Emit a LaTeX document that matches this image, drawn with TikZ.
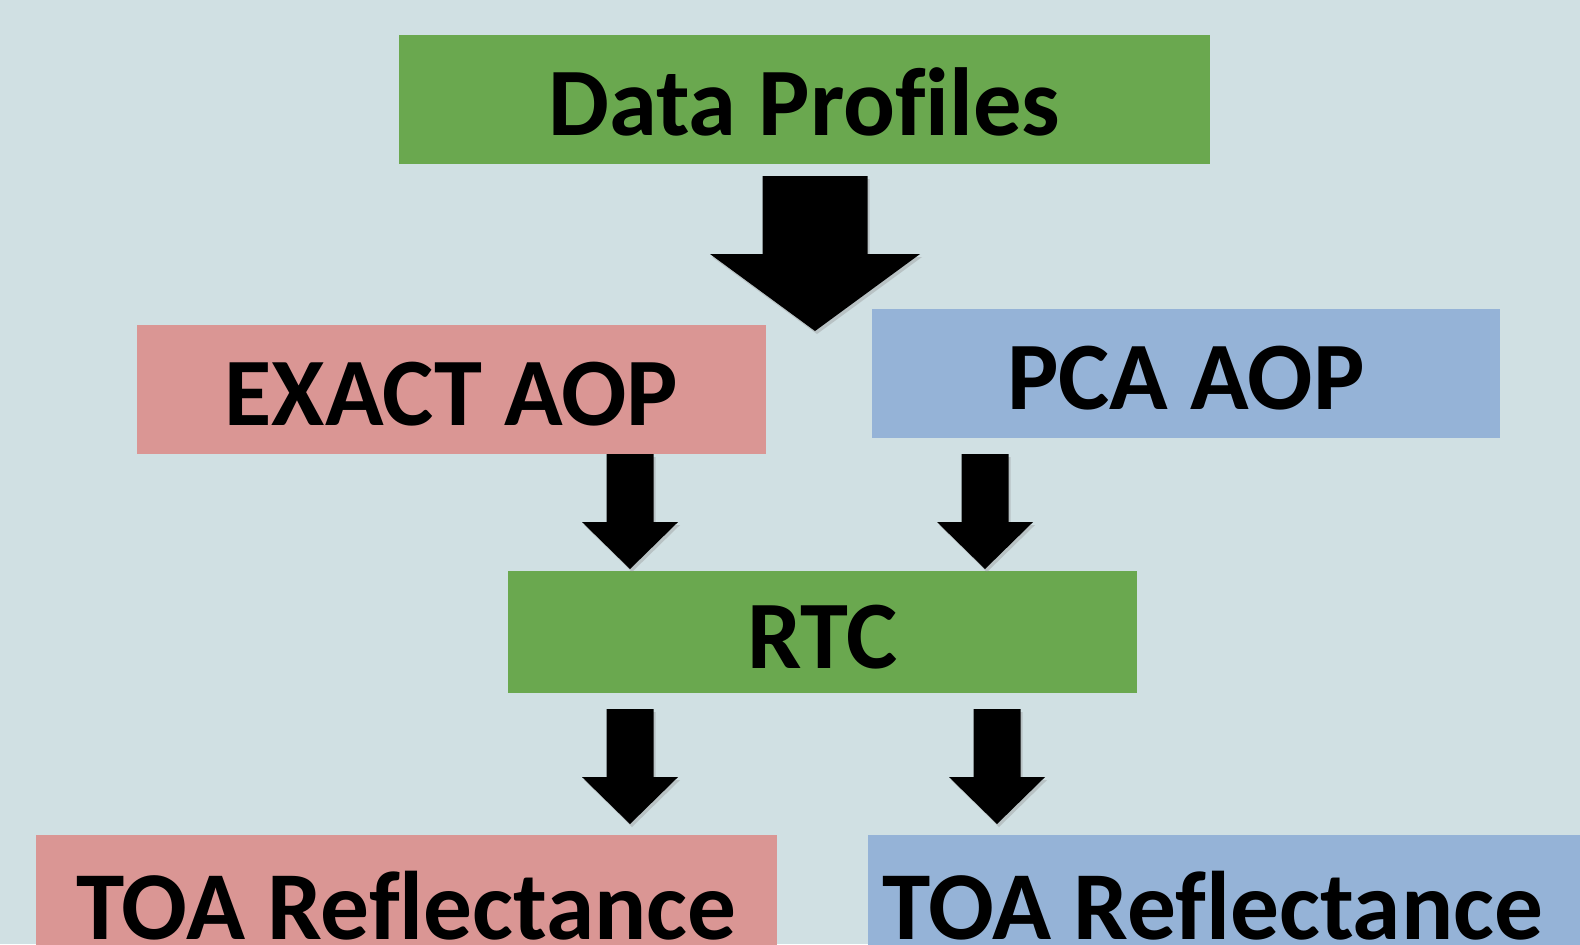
\documentclass[tikz,border=0pt]{standalone}
\usepackage{fontspec}
\setmainfont{Carlito}[Ligatures=NoCommon]
\usetikzlibrary{positioning,calc}
\definecolor{bgpale}{RGB}{208,224,227}
\definecolor{boxgreen}{RGB}{106,168,79}
\definecolor{boxpink}{RGB}{218,150,148}
\definecolor{boxblue}{RGB}{149,179,215}
\tikzset{
  box/.style={rectangle, inner sep=0pt, align=center, text=black,
    font=\fontsize{27.5}{30}\selectfont\bfseries, text height=0.72cm, text depth=0pt},
  gbox/.style={box, fill=boxgreen},
  pbox/.style={box, fill=boxpink},
  bbox/.style={box, fill=boxblue},
  obox/.style={font=\fontsize{27.7}{30}\selectfont\bfseries, text height=0.79cm},
  pics/downarrow/.style n args={4}{code={
    \fill[black!45, opacity=0.35] (-#1+2,3) -| (#1+2,#3+3) -- (#2+2,#3+3)
      -- (2,#4+3) -- (-#2+2,#3+3) -- (-#1+2,#3+3) -- cycle;
    \fill[black] (-#1,0) -| (#1,#3) -- (#2,#3) -- (0,#4) -- (-#2,#3)
      -- (-#1,#3) -- cycle;
  }},
}
\begin{document}
\begin{tikzpicture}[x=0.01cm, y=-0.01cm]
  \clip (0,0) rectangle (1580,944);
  \fill[bgpale] (0,0) rectangle (1580,944);
  % boxes
  \node[gbox, minimum width=8.11cm, minimum height=1.29cm] (dp) at (804.5,99.5) {Data Prof\kern0pt iles};
  \node[pbox, minimum width=6.29cm, minimum height=1.29cm] (exact) at (451.5,389.5) {EXACT AOP};
  \node[bbox, minimum width=6.28cm, minimum height=1.29cm] (pca) at (1186,373.5) {PCA AOP};
  \node[gbox, minimum width=6.29cm, minimum height=1.22cm] (rtc) at (822.5,632) {RTC};
  \node[pbox, obox, minimum width=7.41cm, minimum height=1.29cm] (toa1) at (406.5,899.5) {TOA Ref\kern0pt lectance};
  \node[bbox, obox, minimum width=7.12cm, minimum height=1.29cm] (toa2) at (1224,899.5) {TOA Ref\kern0pt lectance\hspace*{0.22cm}};
  % arrows
  \coordinate (a0) at (815,176);
  \coordinate (a1) at (630,454);
  \coordinate (a2) at (985,454);
  \coordinate (a3) at (630,709);
  \coordinate (a4) at (997,709);
  \pic at (a0) {downarrow={52.5}{105}{78}{155}};
  \foreach \a in {a1,a2,a3,a4}
    \pic at (\a) {downarrow={23.5}{48}{68}{115}};
\end{tikzpicture}
\end{document}
